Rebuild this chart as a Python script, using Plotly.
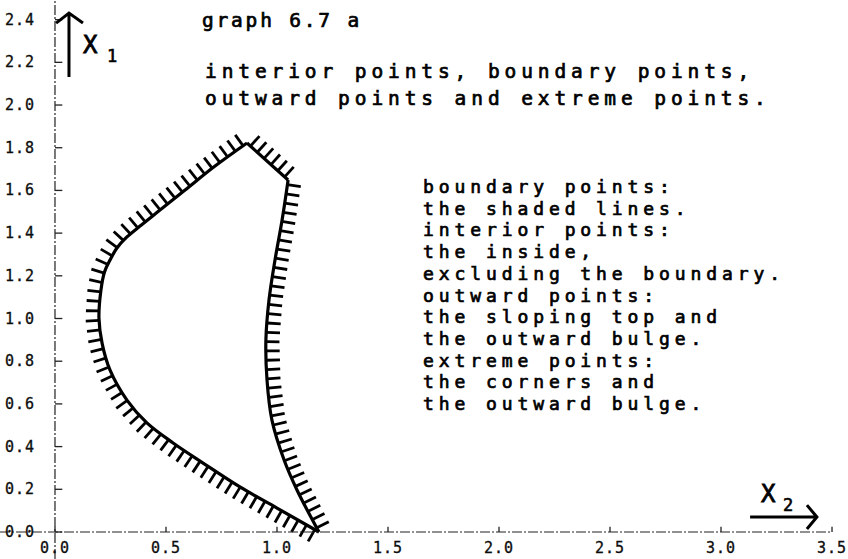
import numpy as np
import plotly.graph_objects as go

# ---- axis ticks -----------------------------------------------------------
x_ticks = [0.0, 0.5, 1.0, 1.5, 2.0, 2.5, 3.0, 3.5]
x_tick_labels = ["0.0", "0.5", "1.0", "1.5", "2.0", "2.5", "3.0", "3.5"]
y_ticks = [0.0, 0.2, 0.4, 0.6, 0.8, 1.0, 1.2, 1.4, 1.6, 1.8, 2.0, 2.2, 2.4]
y_tick_labels = ["0.0", "0.2", "0.4", "0.6", "0.8", "1.0", "1.2",
                 "1.4", "1.6", "1.8", "2.0", "2.2", "2.4"]

# ---- boundary of the set (x2 horizontal, x1 vertical) ---------------------
# left curve: bottom corner -> leftmost point -> top corner
left_x = [1.189, 1.000, 0.833, 0.667, 0.532, 0.414, 0.324, 0.248, 0.212,
          0.198, 0.207, 0.223, 0.248, 0.279, 0.324, 0.383, 0.473, 0.586,
          0.721, 0.865]
left_y = [0.000, 0.112, 0.211, 0.323, 0.417, 0.511, 0.618, 0.758, 0.885,
          1.002, 1.133, 1.218, 1.274, 1.330, 1.382, 1.433, 1.508, 1.602,
          1.714, 1.822]
# sloping top: top corner -> right corner
top_x = [0.865, 1.050]
top_y = [1.822, 1.649]
# outward bulge: right corner -> bottom corner
right_x = [1.050, 1.023, 0.991, 0.964, 0.950, 0.955, 0.977, 1.032, 1.090, 1.189]
right_y = [1.649, 1.461, 1.274, 1.087, 0.899, 0.712, 0.525, 0.337, 0.197, 0.000]

# ---- texts ------------------------------------------------------------------
title_text = "graph 6.7 a"
heading_lines = ["interior points, boundary points,",
                 "outward points and extreme points."]
note_lines = ["boundary points:",
              "the shaded lines.",
              "interior points:",
              "the inside,",
              "excluding the boundary.",
              "outward points:",
              "the sloping top and",
              "the outward bulge.",
              "extreme points:",
              "the corners and",
              "the outward bulge."]

# ---- figure geometry ------------------------------------------------------
W, H = 848, 559
X_RANGE = [-0.2477, 3.572]
Y_RANGE = [-0.1265, 2.492]
SX = W / (X_RANGE[1] - X_RANGE[0])
SY = H / (Y_RANGE[1] - Y_RANGE[0])

FONT = "DejaVu Sans Mono"
INK = "black"


def styled(text, spacing, weight=0.6):
    """Plotter-like lettering: wide letter pitch and slightly heavy strokes."""
    return (f'<span style="letter-spacing:{spacing}px;stroke:black;'
            f'stroke-width:{weight}px">{text}</span>')


def hatches(xs, ys, spacing=9.6, length=13.0, offset=0.5):
    """Short strokes on the outer side of a boundary traversed clockwise."""
    px = (np.asarray(xs) - X_RANGE[0]) * SX
    py = (Y_RANGE[1] - np.asarray(ys)) * SY
    dx, dy = np.diff(px), np.diff(py)
    seg = np.hypot(dx, dy)
    ux, uy = dx / seg, dy / seg
    # tangent at vertices: mean of neighbouring segment directions
    tx = np.concatenate([[ux[0]], (ux[:-1] + ux[1:]) / 2, [ux[-1]]])
    ty = np.concatenate([[uy[0]], (uy[:-1] + uy[1:]) / 2, [uy[-1]]])
    cum = np.concatenate([[0.0], np.cumsum(seg)])
    n = max(1, int(round(cum[-1] / spacing)))
    out_x, out_y = [], []
    for k in range(n):
        s = (k + offset) * cum[-1] / n
        i = min(max(np.searchsorted(cum, s) - 1, 0), len(seg) - 1)
        t = (s - cum[i]) / seg[i]
        x0 = px[i] + t * dx[i]
        y0 = py[i] + t * dy[i]
        vx = tx[i] + t * (tx[i + 1] - tx[i])
        vy = ty[i] + t * (ty[i + 1] - ty[i])
        nrm = np.hypot(vx, vy)
        nx, ny = vy / nrm, -vx / nrm
        x1, y1 = x0 + nx * length, y0 + ny * length
        out_x += [X_RANGE[0] + x0 / SX, X_RANGE[0] + x1 / SX, None]
        out_y += [Y_RANGE[1] - y0 / SY, Y_RANGE[1] - y1 / SY, None]
    return out_x, out_y


fig = go.Figure()

# hatching on the outside of every boundary piece
hx, hy = [], []
for xs, ys, sp in [(left_x, left_y, 9.6), (top_x, top_y, 10.0),
                   (right_x, right_y, 9.4)]:
    a, b = hatches(xs, ys, spacing=sp, length=13.5)
    hx += a
    hy += b
fig.add_trace(go.Scatter(x=hx, y=hy, mode="lines",
                         line=dict(color=INK, width=2.8),
                         hoverinfo="skip"))

# the boundary itself
curve = dict(color=INK, width=3.2, shape="spline", smoothing=1.0)
fig.add_trace(go.Scatter(x=left_x, y=left_y, mode="lines", line=curve))
fig.add_trace(go.Scatter(x=top_x, y=top_y, mode="lines",
                         line=dict(color=INK, width=3.2)))
fig.add_trace(go.Scatter(x=right_x, y=right_y, mode="lines", line=curve))

shapes = []
axis_line = dict(color="#222", width=1.2, dash="10px,2px,2px,2px")
# hand-drawn style axes
shapes.append(dict(type="line", xref="x", yref="y", x0=X_RANGE[0], x1=3.5,
                   y0=0, y1=0, line=axis_line))
shapes.append(dict(type="line", xref="x", yref="y", x0=0, x1=0,
                   y0=Y_RANGE[0], y1=Y_RANGE[1], line=axis_line))
for v in y_ticks:
    shapes.append(dict(type="line", xref="x", yref="y", x0=0, x1=0.033,
                       y0=v, y1=v, line=dict(color="#222", width=1.3)))
for v in x_ticks:
    shapes.append(dict(type="line", xref="x", yref="y", x0=v, x1=v,
                       y0=0, y1=0.024, line=dict(color="#222", width=1.3)))

# axis-name arrows
arrow = dict(color=INK, width=3)
shapes.append(dict(type="path", xref="x", yref="y",
                   path="M 0.063 2.131 L 0.063 2.431 M 0.005 2.384 L 0.063 2.431 L 0.126 2.384",
                   line=arrow))
shapes.append(dict(type="path", xref="x", yref="y",
                   path="M 3.131 0.070 L 3.432 0.070 M 3.387 0.126 L 3.432 0.070 L 3.387 0.014",
                   line=arrow))

tick_font = dict(family=FONT, size=15, color="#111")
annotations = []
for v, lab in zip(y_ticks, y_tick_labels):
    annotations.append(dict(x=-0.083, y=v, xref="x", yref="y",
                            text=styled(lab, 1, 0.3), showarrow=False,
                            xanchor="right", yanchor="middle", font=tick_font))
for v, lab in zip(x_ticks, x_tick_labels):
    annotations.append(dict(x=v, y=-0.075, xref="x", yref="y",
                            text=styled(lab, 1, 0.3), showarrow=False,
                            xanchor="center", yanchor="middle", font=tick_font))

# axis names
big = dict(family=FONT, size=24, color=INK)
small = dict(family=FONT, size=17, color=INK)
annotations += [
    dict(x=0.158, y=2.281, xref="x", yref="y", text=styled("X", 0, 0.8),
         showarrow=False, xanchor="center", yanchor="middle", font=big),
    dict(x=0.257, y=2.232, xref="x", yref="y", text=styled("1", 0, 0.6),
         showarrow=False, xanchor="center", yanchor="middle", font=small),
    dict(x=3.212, y=0.178, xref="x", yref="y", text=styled("X", 0, 0.8),
         showarrow=False, xanchor="center", yanchor="middle", font=big),
    dict(x=3.302, y=0.128, xref="x", yref="y", text=styled("2", 0, 0.6),
         showarrow=False, xanchor="center", yanchor="middle", font=small),
]

head_font = dict(family=FONT, size=19.5, color=INK)
note_font = dict(family=FONT, size=18, color=INK)
annotations.append(dict(x=0.655, y=2.395, xref="x", yref="y",
                        text=styled(title_text, 2.8, 0.7), showarrow=False,
                        xanchor="left", yanchor="middle", font=head_font))
for i, line in enumerate(heading_lines):
    annotations.append(dict(x=0.668, y=2.156 - i * 0.126, xref="x", yref="y",
                            text=styled(line, 4.9, 0.7), showarrow=False,
                            xanchor="left", yanchor="middle", font=head_font))
for i, line in enumerate(note_lines):
    annotations.append(dict(x=1.648, y=1.618 - i * 0.1016, xref="x", yref="y",
                            text=styled(line, 4.9, 0.7), showarrow=False,
                            xanchor="left", yanchor="middle", font=note_font))

fig.update_layout(
    width=W, height=H,
    margin=dict(l=0, r=0, t=0, b=0),
    paper_bgcolor="white", plot_bgcolor="white",
    showlegend=False,
    xaxis=dict(range=X_RANGE, visible=False, fixedrange=True),
    yaxis=dict(range=Y_RANGE, visible=False, fixedrange=True),
    shapes=shapes,
    annotations=annotations,
)

fig.write_html("out.html")
